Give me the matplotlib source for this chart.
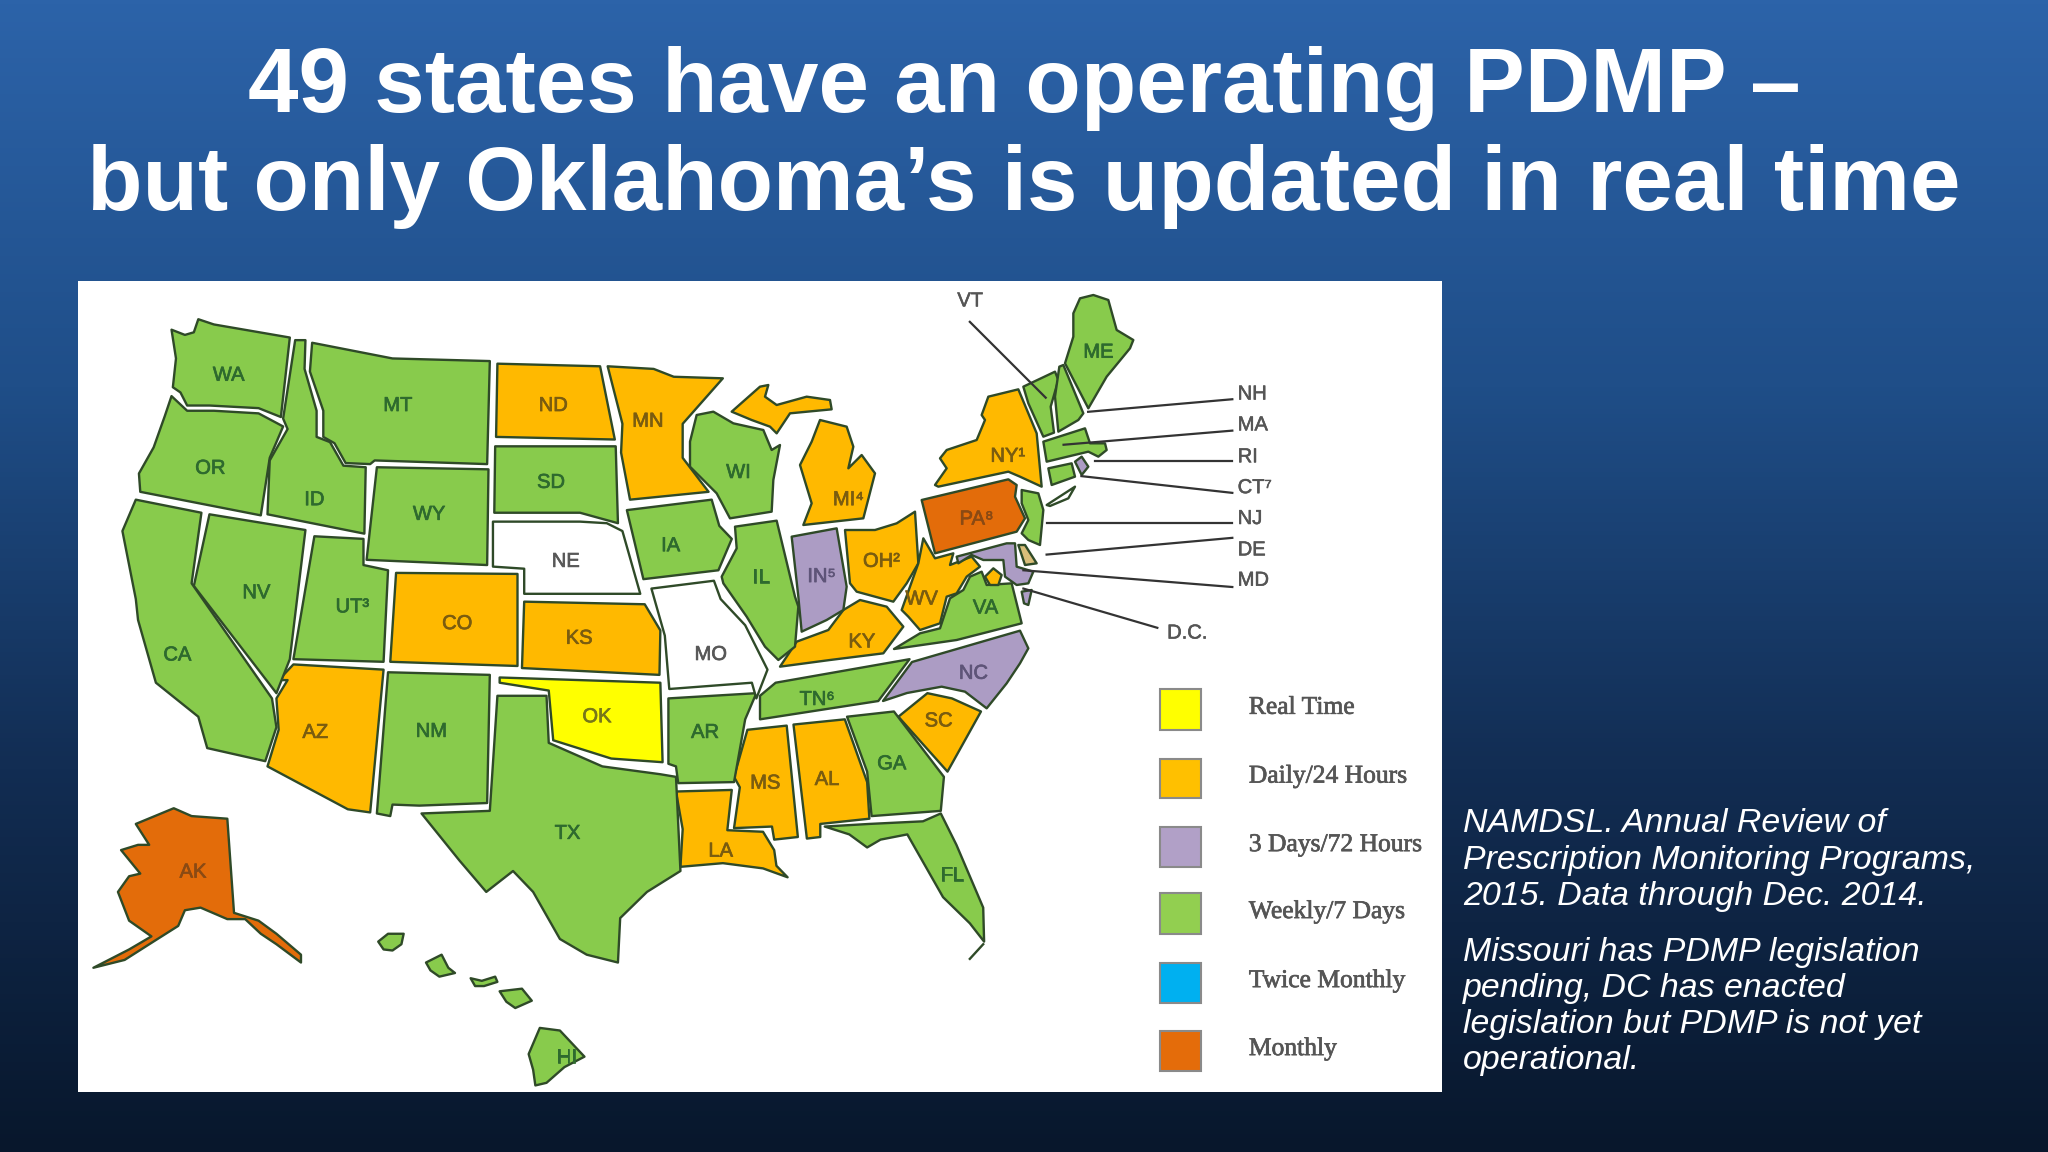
"""PDMP update frequency slide: US map with legend and notes."""
import matplotlib
matplotlib.use('Agg')
import matplotlib.patheffects as pe
import matplotlib.pyplot as plt
import numpy as np
from matplotlib.colors import LinearSegmentedColormap
from matplotlib.patches import Polygon, Rectangle

plt.rcParams['font.family'] = ['Liberation Sans', 'DejaVu Sans']

SX, SY = 2.24, 1.912


def west(pts):
    return [(80 + x / SX, 280 + y / SY) for x, y in pts]


def east(pts):
    return [(760 + x / SX, 280 + y / SY) for x, y in pts]


def crop(pts, x0, y0):
    return [(x0 + x / 3, y0 + y / 3) for x, y in pts]


def north(pts):
    return crop(pts, 900, 280)


def mid(pts):
    return crop(pts, 900, 470)


def lakes(pts):
    return crop(pts, 680, 370)


WA = west([(205, 95), (235, 105), (255, 100), (265, 75), (300, 85), (470, 110), (450, 262), (400, 245), (290, 240), (240, 240), (225, 215), (208, 205), (215, 150)])
OR = west([(205, 222), (240, 250), (300, 250), (400, 255), (455, 280), (425, 340), (405, 450), (135, 405), (132, 370), (165, 320), (190, 260)])
ID = west([(482, 115), (505, 115), (503, 170), (530, 250), (530, 300), (560, 310), (590, 355), (640, 358), (637, 485), (420, 448), (425, 345), (465, 285), (455, 265)])
MT = west([(520, 120), (700, 150), (918, 155), (912, 352), (660, 345), (650, 352), (595, 350), (570, 312), (545, 300), (545, 250), (515, 175)])
WY = west([(665, 358), (915, 362), (912, 545), (642, 535)])
ND = west([(935, 160), (1165, 165), (1198, 305), (932, 300)])
SD = west([(930, 318), (1200, 318), (1205, 465), (1120, 445), (928, 445)])
NE = west([(925, 462), (1120, 462), (1180, 465), (1215, 480), (1255, 600), (995, 600), (995, 552), (925, 548)])
MN = west([(1182, 165), (1285, 170), (1330, 185), (1440, 188), (1350, 275), (1350, 340), (1408, 405), (1232, 420), (1212, 330), (1215, 275)])
IA = west([(1225, 440), (1415, 420), (1432, 470), (1460, 495), (1430, 555), (1262, 572)])
WI = lakes([(30, 215), (50, 135), (100, 125), (160, 160), (250, 180), (275, 240), (300, 225), (280, 330), (275, 425), (150, 445), (110, 370), (30, 290)])
IL = lakes([(165, 470), (290, 452), (345, 680), (355, 710), (345, 830), (295, 870), (255, 830), (200, 740), (130, 640), (125, 620), (170, 535)])
MO = west([(1280, 590), (1420, 575), (1435, 610), (1490, 660), (1540, 745), (1515, 800), (1505, 770), (1320, 782), (1310, 680)])
KS = west([(995, 615), (1265, 620), (1300, 670), (1298, 755), (990, 742)])
CO = west([(708, 560), (980, 562), (980, 738), (695, 730)])
UT = west([(525, 490), (635, 495), (635, 545), (690, 555), (680, 730), (478, 725)])
NV = west([(290, 448), (505, 478), (470, 725), (440, 790), (255, 585)])
CA = west([(125, 420), (272, 445), (250, 580), (430, 800), (440, 855), (415, 920), (285, 895), (265, 835), (170, 770), (130, 650), (125, 610), (95, 480)])
AZ = west([(478, 735), (680, 745), (650, 1018), (600, 1012), (420, 930), (445, 860), (440, 800), (465, 765), (445, 765)])
NM = west([(690, 750), (918, 755), (912, 1000), (760, 1005), (700, 1003), (695, 1025), (665, 1020)])
OK = west([(940, 760), (1300, 770), (1305, 922), (1190, 915), (1060, 880), (1050, 785), (940, 770)])
TX = west([(935, 795), (1045, 795), (1050, 885), (1170, 930), (1300, 945), (1335, 950), (1345, 1130), (1270, 1170), (1210, 1220), (1205, 1305), (1135, 1290), (1075, 1260), (1015, 1170), (970, 1130), (910, 1170), (850, 1110), (765, 1020), (918, 1015)])
AR = west([(1318, 800), (1515, 790), (1490, 840), (1465, 960), (1340, 962), (1335, 930), (1318, 925)])
LA = west([(1335, 978), (1460, 975), (1450, 1052), (1530, 1055), (1555, 1090), (1560, 1120), (1585, 1142), (1530, 1125), (1440, 1115), (1345, 1122), (1350, 1050)])
MS = west([(1495, 860), (1583, 852), (1608, 1065), (1555, 1070), (1550, 1045), (1465, 1048), (1478, 970), (1465, 950)])
AK = west([(125, 1040), (210, 1010), (250, 1025), (330, 1030), (345, 1210), (400, 1225), (440, 1250), (495, 1290), (495, 1305), (440, 1270), (405, 1250), (370, 1222), (330, 1222), (270, 1200), (235, 1205), (220, 1235), (170, 1262), (100, 1300), (30, 1315), (110, 1280), (160, 1255), (110, 1225), (85, 1170), (110, 1140), (135, 1135), (92, 1090), (130, 1080), (155, 1080)])
HI1 = west([(668, 1265), (690, 1250), (725, 1250), (720, 1270), (700, 1282), (680, 1280)])
HI2 = west([(775, 1305), (810, 1290), (825, 1315), (840, 1325), (805, 1332), (785, 1320)])
HI3 = west([(875, 1335), (900, 1340), (930, 1332), (935, 1342), (905, 1350), (885, 1350)])
HI4 = west([(940, 1360), (990, 1355), (1012, 1378), (975, 1392), (955, 1380)])
HI5 = west([(1005, 1480), (1030, 1430), (1075, 1435), (1130, 1485), (1085, 1505), (1045, 1535), (1020, 1540), (1015, 1510)])

MI_U = lakes([(155, 125), (240, 50), (265, 45), (255, 80), (290, 105), (380, 80), (450, 90), (455, 118), (330, 130), (290, 190), (270, 170), (215, 150)])
MI_L = lakes([(360, 285), (395, 215), (420, 150), (500, 170), (520, 230), (505, 295), (545, 255), (585, 310), (550, 445), (370, 465), (395, 400)])
IN = lakes([(335, 500), (470, 475), (500, 650), (490, 720), (440, 750), (365, 785), (355, 680)])
OH = lakes([(495, 480), (585, 480), (650, 460), (705, 425), (715, 580), (680, 640), (640, 695), (530, 665), (510, 640)])
KY = lakes([(300, 890), (350, 815), (445, 780), (490, 720), (540, 690), (620, 710), (670, 770), (610, 850), (450, 870)])
WV = mid([(5, 420), (55, 280), (70, 205), (105, 265), (160, 250), (150, 285), (215, 260), (240, 290), (200, 320), (170, 370), (140, 380), (120, 460), (60, 480), (25, 440)])
VA = mid([(-18, 537), (60, 490), (120, 475), (150, 385), (190, 360), (210, 320), (245, 305), (260, 345), (335, 340), (345, 380), (365, 460), (170, 510)])
TN = east([(0, 795), (35, 770), (335, 725), (265, 805), (0, 840)])
NC = mid([(-51, 693), (36, 576), (360, 482), (385, 535), (360, 580), (320, 640), (260, 715), (195, 665), (125, 650), (21, 669)])
SC = east([(310, 835), (375, 790), (430, 800), (495, 825), (420, 940)])
GA = east([(195, 835), (300, 825), (412, 950), (405, 1015), (250, 1025), (240, 940)])
AL = east([(75, 850), (190, 840), (240, 960), (245, 1030), (135, 1040), (135, 1065), (105, 1068)])
FL = east([(145, 1045), (245, 1040), (365, 1035), (405, 1020), (440, 1080), (500, 1200), (502, 1265), (470, 1230), (410, 1180), (370, 1120), (330, 1060), (270, 1070), (240, 1085), (200, 1060)])
PA = mid([(65, 90), (325, 28), (350, 45), (345, 80), (375, 145), (350, 185), (105, 250)])
NY = north([(105, 615), (140, 565), (120, 535), (140, 510), (230, 480), (255, 420), (245, 405), (265, 350), (355, 328), (410, 460), (425, 620), (360, 590), (325, 575), (115, 620)])
NJ = mid([(365, 60), (415, 70), (430, 120), (420, 225), (385, 210), (365, 190), (385, 150), (365, 100)])
DE = mid([(355, 225), (375, 225), (410, 280), (375, 285)])
MD = mid([(170, 260), (245, 240), (320, 220), (345, 220), (350, 290), (400, 305), (385, 340), (350, 345), (315, 320), (310, 270), (250, 270), (215, 255), (175, 280)])
DC = mid([(255, 320), (280, 295), (305, 315), (295, 345), (270, 345)])
VA_SHORE = mid([(365, 365), (395, 360), (385, 405), (372, 400)])
VT = north([(370, 320), (465, 275), (475, 300), (452, 380), (462, 458), (430, 470), (385, 370)])
NH = north([(478, 260), (490, 255), (550, 400), (535, 420), (475, 455), (465, 350)])
ME = north([(520, 100), (540, 55), (580, 45), (625, 60), (650, 150), (700, 180), (690, 205), (620, 290), (565, 385), (495, 250), (520, 170)])
MA = north([(430, 485), (555, 445), (570, 490), (615, 490), (620, 510), (595, 530), (565, 515), (440, 545)])
CT = north([(445, 565), (515, 550), (525, 590), (455, 615)])
RI = north([(525, 545), (545, 530), (565, 560), (545, 585)])
LONG_ISLAND = north([(440, 675), (525, 620), (505, 655), (450, 678)])

real_time = [OK]
daily = [ND, MN, MI_U, MI_L, NY, OH, KY, SC, AL, MS, LA, CO, KS, AZ]
three_day = [IN, NC, VA_SHORE, RI]
weekly = [WA, OR, ID, MT, WY, SD, IA, WI, IL, UT, NV, CA, NM, TX, AR, HI1, HI2, HI3, HI4, HI5,
          VA, TN, GA, FL, NJ, VT, NH, ME, MA, CT]
monthly = [PA, AK]
no_program = [NE, MO, LONG_ISLAND]
# these sit on top of their neighbours, so they are drawn last
top_daily = [WV, DC]
top_three_day = [MD]
tan_shapes = [DE]

west_names = ['WA', 'OR', 'MT', 'ID', 'WY', 'NV', 'UT³', 'CA', 'AZ', 'NM', 'CO', 'ND', 'SD', 'NE',
              'KS', 'OK', 'TX', 'MN', 'IA', 'MO', 'AR', 'LA', 'WI', 'IL', 'AK', 'HI', 'MS']
west_label_x = [333, 292, 712, 525, 782, 395, 610, 218, 527, 787, 845, 1060, 1055, 1088,
                1118, 1158, 1092, 1272, 1323, 1413, 1400, 1435, 1475, 1525, 253, 1090, 1535]
west_label_y = [182, 360, 240, 420, 448, 598, 625, 717, 865, 863, 657, 240, 387, 538,
                685, 835, 1058, 270, 508, 716, 865, 1092, 368, 568, 1132, 1487, 962]
east_names = ['ME', 'MI⁴', 'NY¹', 'PA⁸', 'OH²', 'IN⁵', 'WV', 'VA', 'KY', 'NC', 'TN⁶', 'SC', 'GA', 'AL', 'FL']
east_label_x = [758, 198, 555, 485, 272, 138, 362, 505, 228, 478, 128, 400, 295, 150, 430]
east_label_y = [138, 420, 337, 457, 538, 567, 610, 627, 692, 752, 802, 843, 925, 955, 1138]

daily_names = ['MN', 'ND', 'CO', 'KS', 'AZ', 'LA', 'MS', 'AL', 'SC', 'KY', 'WV', 'OH²', 'NY¹', 'MI⁴']
monthly_names = ['PA⁸', 'AK']
three_day_names = ['IN⁵', 'NC']

callout_names = ['VT', 'NH', 'MA', 'RI', 'CT⁷', 'NJ', 'DE', 'MD', 'D.C.']
callout_from = [(470, 80), (735, 252), (680, 315), (750, 347), (720, 375), (642, 465), (642, 525), (590, 555), (590, 590)]
callout_to = [(640, 225), (1058, 228), (1058, 288), (1058, 347), (1058, 407), (1058, 465), (1058, 493), (1058, 587), (890, 665)]
callout_text = [(442, 40), (1070, 218), (1070, 277), (1070, 338), (1070, 397), (1070, 456), (1070, 516), (1070, 574), (912, 675)]

legend_labels = ['Real Time', 'Daily/24 Hours', '3 Days/72 Hours', 'Weekly/7 Days', 'Twice Monthly', 'Monthly']
legend_colors = ['#FFFF00', '#FFC000', '#B1A0C7', '#92CF50', '#00B0F0', '#E46C0A']
legend_top = [782, 915, 1045, 1173, 1305, 1435]
legend_bottom = [860, 990, 1122, 1250, 1382, 1512]

title_lines = ['49 states have an operating PDMP –', 'but only Oklahoma’s is updated in real time']
note_lines = ['NAMDSL. Annual Review of', 'Prescription Monitoring Programs,', '2015. Data through Dec. 2014.',
              'Missouri has PDMP legislation', 'pending, DC has enacted', 'legislation but PDMP is not yet', 'operational.']
note_y = [823, 860, 896, 952, 988, 1024, 1061]

fig = plt.figure(figsize=(20.48, 11.52), dpi=100)
ax = fig.add_axes([0, 0, 1, 1])
ax.axis('off')

bg = LinearSegmentedColormap.from_list('bg', ['#2C63A9', '#1F4E88', '#122D53', '#08172C'])
ax.imshow(np.linspace(0, 1, 256)[:, None], cmap=bg, extent=(0, 2048, 1152, 0), aspect='auto', zorder=0)
ax.set_xlim(0, 2048)
ax.set_ylim(1152, 0)

ax.add_patch(Rectangle((78, 281), 1364, 811, fc='white', ec='none', zorder=1))

edge = '#2F4A28'
tiers = [(real_time, '#FFFF00'), (daily, '#FFB900'), (three_day, '#AC9CC4'), (weekly, '#88CB4C'),
         (monthly, '#E36C0A'), (no_program, 'white'), (top_daily, '#FFB900'), (top_three_day, '#AC9CC4'),
         (tan_shapes, '#D9BE7A')]
for shapes, color in tiers:
    for pts in shapes:
        ax.add_patch(Polygon(pts, closed=True, fc=color, ec=edge, lw=1.7, joinstyle='round', zorder=2))
# the hook at the tip of Florida
hook = east([(500, 1270), (470, 1298)])
ax.plot(*zip(*hook), color=edge, lw=1.7, zorder=2)


def label_color(name):
    if name in daily_names:
        return '#7A5C10'
    if name in monthly_names:
        return '#8A4A14'
    if name in three_day_names:
        return '#5E5478'
    if name == 'OK':
        return '#77771A'
    if name in ('NE', 'MO'):
        return '#585858'
    return '#2E6A2E'


def heavy(color, width=0.5):
    return [pe.withStroke(linewidth=width, foreground=color)]


for names, xs, ys, conv in [(west_names, west_label_x, west_label_y, west),
                            (east_names, east_label_x, east_label_y, east)]:
    for name, x, y in zip(names, xs, ys):
        (px, py), = conv([(x, y)])
        col = label_color(name)
        ax.text(px, py, name, ha='center', va='center', fontsize=14.5, color=col, zorder=3,
                path_effects=heavy(col))

for name, p0, p1, tp in zip(callout_names, callout_from, callout_to, callout_text):
    seg = east([p0, p1])
    ax.plot(*zip(*seg), color='#333333', lw=1.6, zorder=4)
    (tx, ty), = east([tp])
    ax.text(tx, ty, name, ha='left', va='center', fontsize=14.5, color='#555555', zorder=4,
            path_effects=heavy('#555555', 0.4))

for label, color, top, bottom in zip(legend_labels, legend_colors, legend_top, legend_bottom):
    (x0, y0), (x1, y1) = east([(895, top), (987, bottom)])
    ax.add_patch(Rectangle((x0, y0), x1 - x0, y1 - y0, fc=color, ec='#8A8A8A', lw=1.5, zorder=2))
    (tx, ty), = east([(1095, (top + bottom) / 2 - 3)])
    ax.text(tx, ty, label, ha='left', va='center', fontsize=18.4, family=['Liberation Serif'], color='#555555',
            zorder=3, path_effects=heavy('#555555', 0.5))

ax.text(1024, 112, title_lines[0], ha='center', va='baseline', fontsize=65.3, fontweight='bold', color='white', zorder=5)
ax.text(1024, 210, title_lines[1], ha='center', va='baseline', fontsize=65.3, fontweight='bold', color='white', zorder=5)

for line, y in zip(note_lines, note_y):
    ax.text(1463, y, line, ha='left', va='center', fontsize=24.4, style='italic', color='white', zorder=5)

fig.savefig('out.png', dpi=100)
